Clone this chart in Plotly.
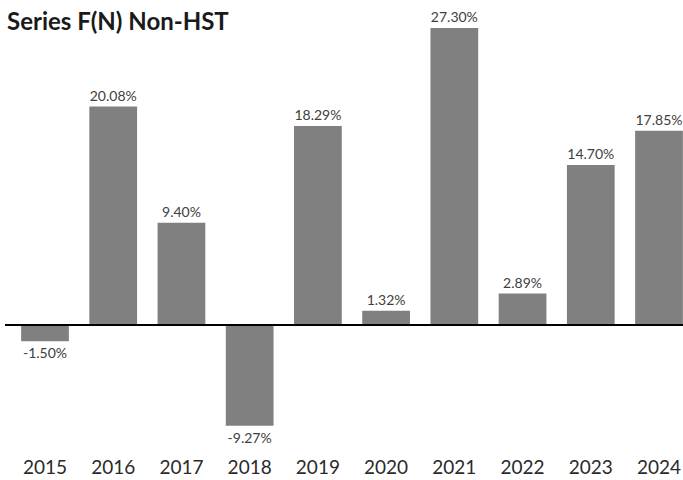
import plotly.graph_objects as go

years = ["2015", "2016", "2017", "2018", "2019", "2020", "2021", "2022", "2023", "2024"]
returns = [-1.50, 20.08, 9.40, -9.27, 18.29, 1.32, 27.30, 2.89, 14.70, 17.85]
labels = ["-1.50%", "20.08%", "9.40%", "-9.27%", "18.29%", "1.32%", "27.30%", "2.89%", "14.70%", "17.85%"]

W, H = 683, 480
ml, mr, mt, mb = 0, 0, 0, 26
ppu = (325 - 28) / 27.30  # pixels per percent
ymax = 325 / ppu
ymin = -((H - mb) - 325) / ppu
xppu = (659 - 45) / 9
xmin = -45 / xppu
xmax = 9 + (W - 659) / xppu

xs = list(range(len(years)))

fig = go.Figure()
fig.add_trace(go.Bar(
    x=xs, y=returns, text=labels, textposition="outside",
    marker=dict(color="#808080", line=dict(width=0)),
    textfont=dict(family="Lato, sans-serif", size=14, color="#404040"),
    cliponaxis=False, width=0.70,
))
fig.add_shape(type="line", xref="paper", yref="y", x0=5 / W, x1=1, y0=0, y1=0,
              line=dict(color="black", width=2))
fig.update_layout(
    width=W, height=H, margin=dict(l=ml, r=mr, t=mt, b=mb, autoexpand=False),
    plot_bgcolor="white", paper_bgcolor="white", showlegend=False,
    title=dict(text="<b>Series F(N) Non-HST</b>", xref="container", yref="container",
               x=7 / W, y=1 - 22 / H, xanchor="left", yanchor="middle",
               font=dict(family="Lato, sans-serif", size=24, color="#1a1a1a")),
    xaxis=dict(range=[xmin, xmax], tickvals=xs, ticktext=years, showgrid=False,
               zeroline=False, showline=False, ticks="", automargin=False,
               tickfont=dict(family="Lato, sans-serif", size=19, color="#2a2a2a")),
    yaxis=dict(range=[ymin, ymax], visible=False, showgrid=False, zeroline=False),
)
fig.write_html("out.html", config={"displayModeBar": False},
               post_script="document.body.style.margin='0';")
